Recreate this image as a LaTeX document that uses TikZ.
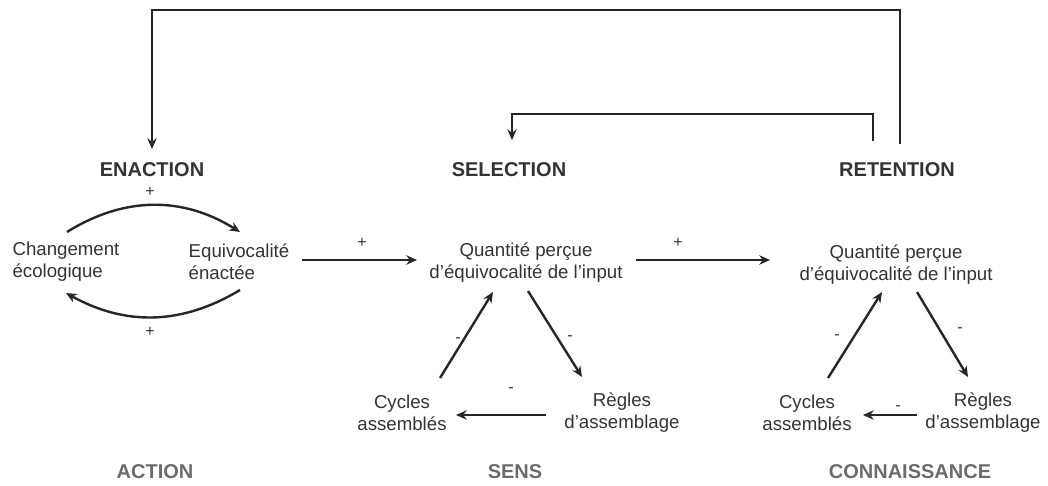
\documentclass[tikz,border=0pt]{standalone}
\usepackage{fontspec}
\setmainfont{Liberation Sans}
\usetikzlibrary{arrows.meta,calc,positioning}

\begin{document}
\begin{tikzpicture}[x=0.75pt, y=0.75pt,
    txt/.style  = {text=black!80, font=\fontsize{14}{16.5}\selectfont, align=center, inner sep=2pt},
    head/.style = {text=black!80, font=\fontsize{15}{18}\selectfont\bfseries, inner sep=2pt},
    foot/.style = {text=black!58, font=\fontsize{15}{18}\selectfont\bfseries, inner sep=2pt},
    sgn/.style  = {text=black!80, font=\fontsize{12}{14}\selectfont, inner sep=1pt},
    arr/.style  = {-{Stealth[length=8pt,width=7pt]}, line width=1.8pt, black!85}]

    \useasboundingbox (0,0) rectangle (1048,-485);

    % three stages
    \node[head] (enact)  at (152,-170) {ENACTION};
    \node[head] (select) at (509,-170) {SELECTION};
    \node[head] (retent) at (897,-170) {RETENTION};

    \node[foot] (action) at (155,-472) {ACTION};
    \node[foot] (sens)   at (515,-472) {SENS};
    \node[foot] (conn)   at (910,-472) {CONNAISSANCE};

    % enaction loop
    \node[txt, align=left] (chg)  at (66,-262)  {Changement\\écologique};
    \node[txt, align=left] (equi) at (239,-262) {Equivocalité\\énactée};

    % selection
    \node[txt] (q1)   at (526,-263) {Quantité perçue\\d’équivocalité de l’input};
    \node[txt] (cyc1) at (402,-413) {Cycles\\assemblés};
    \node[txt] (reg1) at (622,-413) {Règles\\d’assemblage};

    % retention
    \node[txt] (q2)   at (896,-265) {Quantité perçue\\d’équivocalité de l’input};
    \node[txt] (cyc2) at (807,-413) {Cycles\\assemblés};
    \node[txt] (reg2) at (983,-413) {Règles\\d’assemblage};

    \draw[arr] ($(chg)+(1,30)$) to[bend left=32] ($(equi)+(1,30)$);
    \draw[arr] ($(equi)+(1,-28)$) to[bend left=30] ($(chg)+(0,-31)$);
    \node[sgn] at (150,-192) {+};
    \node[sgn] at (150,-332) {+};

    \draw[arr] ($(equi)+(63,2)$) -- ($(q1)+(-109,3)$);
    \draw[arr] ($(q1)+(110,3)$) -- ($(q2)+(-126,5)$);
    \node[sgn] at (362,-243) {+};
    \node[sgn] at (678,-243) {+};

    \draw[arr] ($(cyc1)+(38,35)$) -- ($(q1)+(-33,-29)$);
    \draw[arr] ($(q1)+(2,-28)$) -- ($(reg1)+(-40,36)$);
    \draw[arr] ($(reg1)+(-76,-2)$) -- ($(cyc1)+(54,-2)$);
    \node[sgn] at (458,-340) {-};
    \node[sgn] at (570,-338) {-};
    \node[sgn] at (511,-390) {-};

    \draw[arr] ($(cyc2)+(21,35)$) -- ($(q2)+(-14,-27)$);
    \draw[arr] ($(q2)+(21,-27)$) -- ($(reg2)+(-15,36)$);
    \draw[arr] ($(reg2)+(-66,-2)$) -- ($(cyc2)+(56,-2)$);
    \node[sgn] at (837,-337) {-};
    \node[sgn] at (960,-330) {-};
    \node[sgn] at (898,-408) {-};

    % feedback lines
    \coordinate (fbR) at (900,-144);
    \coordinate (fbS) at (873,-141);
    \draw[arr] (fbR) -- ++(0,134) -| ($(enact)+(0,21)$);
    \draw[arr] (fbS) -- ++(0,27) -| ($(select)+(3,30)$);
\end{tikzpicture}
\end{document}
